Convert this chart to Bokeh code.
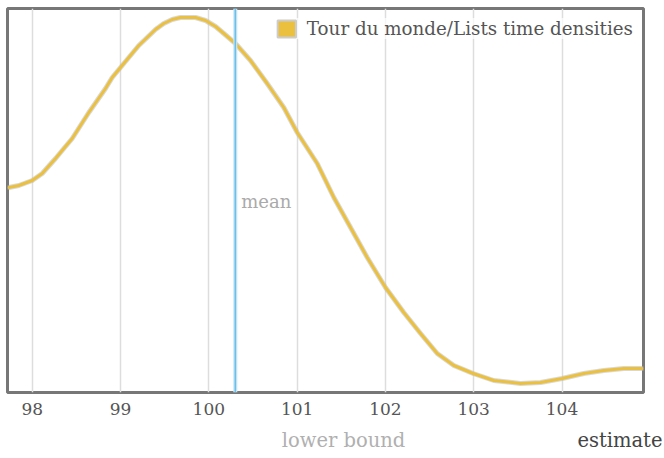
from bokeh.plotting import figure
from bokeh.models import Span, Label, FixedTicker, Range1d, Legend, LegendItem
from bokeh.layouts import column
from bokeh.core.properties import value
from bokeh.embed import file_html
from bokeh.resources import INLINE

# density curve
est_x = [97.735, 97.848, 98.000, 98.113, 98.264, 98.358, 98.453, 98.547, 98.641,
         98.736, 98.830, 98.906, 99.000, 99.094, 99.207, 99.302, 99.396, 99.490,
         99.585, 99.679, 99.755, 99.849, 99.963, 100.076, 100.170, 100.302,
         100.472, 100.661, 100.849, 101.001, 101.228, 101.416, 101.605, 101.794,
         102.001, 102.208, 102.398, 102.587, 102.775, 102.994, 103.228, 103.530,
         103.757, 104.002, 104.247, 104.473, 104.700, 104.908]
density = [0.205, 0.207, 0.212, 0.219, 0.234, 0.244, 0.254, 0.267, 0.280,
           0.292, 0.304, 0.315, 0.325, 0.335, 0.347, 0.355, 0.363, 0.369,
           0.373, 0.375, 0.375, 0.375, 0.372, 0.366, 0.359, 0.349,
           0.332, 0.309, 0.285, 0.260, 0.229, 0.195, 0.165, 0.135,
           0.105, 0.080, 0.059, 0.039, 0.027, 0.019, 0.012, 0.009,
           0.010, 0.014, 0.019, 0.022, 0.024, 0.024]
mean_value = 100.3
tick_values = [98, 99, 100, 101, 102, 103, 104]
series_name = "Tour du monde/Lists time densities"
axis_titles = ["lower bound", "estimate"]

FONT = "DejaVu Serif"
GOLD = "#ebc03f"

p = figure(width=664, height=425, output_backend="svg", toolbar_location=None,
           x_range=Range1d(97.720, 104.923), y_range=Range1d(0.0, 0.384),
           min_border_left=7, min_border_right=21, min_border_top=8,
           min_border_bottom=33)
p.frame_align = False
p.outline_line_color = "#777777"
p.outline_line_width = 3
p.background_fill_color = "white"
p.border_fill_color = "white"

p.yaxis.visible = False
p.ygrid.visible = False
p.xaxis.ticker = FixedTicker(ticks=tick_values)
p.xgrid.ticker = FixedTicker(ticks=tick_values)
p.xgrid.grid_line_color = "#dddddd"
p.xgrid.grid_line_width = 1.5
p.xaxis.axis_line_color = None
p.xaxis.major_tick_line_color = None
p.xaxis.minor_tick_line_color = None
p.xaxis.major_tick_out = 0
p.xaxis.major_tick_in = 0
p.xaxis.minor_tick_out = 0
p.xaxis.major_label_text_font = FONT
p.xaxis.major_label_text_font_size = "17px"
p.xaxis.major_label_text_color = "#555555"
p.xaxis.major_label_standoff = 10

# mean line
p.add_layout(Span(location=mean_value, dimension="height", line_color="#c6e6f6",
                  line_width=4))
p.add_layout(Span(location=mean_value, dimension="height", line_color="#6cc0e8",
                  line_width=1.5))

# curve with soft outline
p.line(est_x, density, line_color="#b8b8b8", line_width=5, line_alpha=0.55,
       line_join="round", line_cap="round")
p.line(est_x, density, line_color=GOLD, line_width=3, line_join="round",
       line_cap="round")

# legend swatch (hidden renderer, shown only in the legend)
sw = p.quad(left=[min(est_x)], right=[max(est_x)], top=[max(density)],
            bottom=[min(density)], fill_color=GOLD, line_color="#cccccc",
            line_width=2)
sw.visible = False
legend = Legend(items=[LegendItem(label=series_name, renderers=[sw])],
                location="top_right")
legend.label_text_font = FONT
legend.label_text_font_size = "18.3px"
legend.label_text_color = "#555555"
legend.glyph_width = 23
legend.glyph_height = 21
legend.label_standoff = 9
legend.padding = 6
legend.margin = 10
legend.border_line_color = None
legend.background_fill_color = "white"
legend.background_fill_alpha = 0.7
legend.inactive_fill_alpha = 0.0
legend.click_policy = "none"
p.add_layout(legend)

p.add_layout(Label(x=100.367, y=0.191, text="mean", text_font=FONT,
                   text_font_size="18px", text_color="#aaaaaa",
                   text_baseline="middle", background_fill_color="white",
                   background_fill_alpha=0.8))

# strip below the chart with the two axis titles
q = figure(width=664, height=33, output_backend="svg", toolbar_location=None,
           x_range=Range1d(0, 664), y_range=Range1d(0, 33),
           min_border_left=0, min_border_right=0, min_border_top=0,
           min_border_bottom=0)
q.frame_align = False
q.axis.visible = False
q.grid.visible = False
q.outline_line_color = None
q.background_fill_color = "white"
q.border_fill_color = "white"
q.text(x=[343], y=[18], text=[axis_titles[0]], text_font=value(FONT),
       text_font_size="19.5px", text_color="#b0b0b0", text_align="center",
       text_baseline="middle")
q.text(x=[662], y=[18], text=[axis_titles[1]], text_font=value(FONT),
       text_font_size="19.5px", text_color="#444444", text_align="right",
       text_baseline="middle")

layout = column(p, q, spacing=0)
open("out.html", "w").write(file_html(layout, INLINE))
